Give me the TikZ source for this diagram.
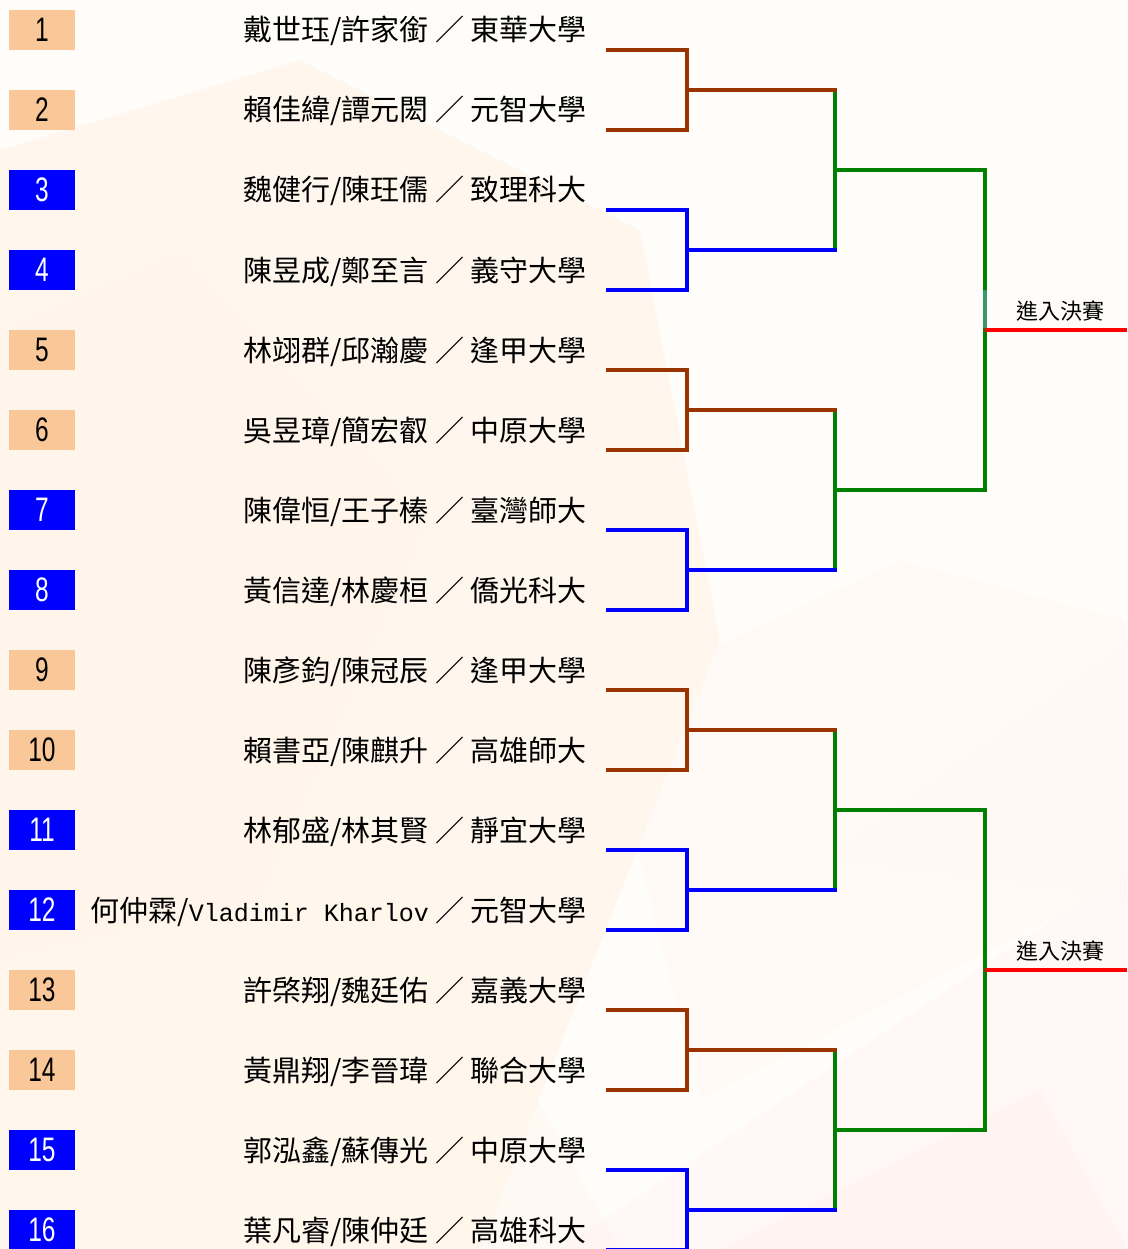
\documentclass[tikz,border=0pt]{standalone}
\usepackage{fontspec}
\usepackage{graphicx}
\setmainfont{Liberation Sans}
\newfontfamily\cjk{Noto Sans CJK TC}
\newfontfamily\monolat{Liberation Mono}
\newfontfamily\numfont{Liberation Sans}
\definecolor{peach}{HTML}{FAC898}
\definecolor{boxblue}{HTML}{0000FF}
\definecolor{brk}{HTML}{993300}
\definecolor{blu}{HTML}{0000FF}
\definecolor{grn}{HTML}{008000}
\definecolor{teal2}{HTML}{3A9A6A}
\definecolor{redl}{HTML}{FF0000}
\definecolor{bgbase}{HTML}{FFFDFA}
\newcommand{\numtxt}[1]{\scalebox{0.72}[1]{#1}}
\tikzset{
  numbox/.style={minimum width=66pt, minimum height=40pt, inner sep=0pt, draw=none,
    font=\numfont\fontsize{34}{34}\selectfont},
  peachbox/.style={numbox, fill=peach, text=black},
  bluebox/.style={numbox, fill=boxblue, text=white},
  entry/.style={anchor=base east, inner sep=0pt, font=\cjk\fontsize{29}{29}\selectfont},
  finlabel/.style={anchor=base, inner sep=0pt, font=\cjk\fontsize{22}{22}\selectfont},
  wire/.style={line width=3.2pt, line join=miter, line cap=rect},
  brownwire/.style={wire, draw=brk},
  bluewire/.style={wire, draw=blu},
  greenwire/.style={wire, draw=grn},
  redwire/.style={line width=3.2pt, draw=redl},
}
\begin{document}
\begin{tikzpicture}[x=1pt,y=-1pt]
\useasboundingbox (0,0) rectangle (1127,1249);
% background
\fill[bgbase] (0,0) rectangle (1127,1249);
\fill[color=orange!12, opacity=0.45] (0,150) -- (300,60) -- (640,230) -- (720,640) -- (480,1249) -- (0,1249) -- cycle;
\fill[color=orange!10, opacity=0.4] (0,330) -- (180,250) -- (430,520) -- (260,900) -- (0,960) -- cycle;
\fill[color=orange!8, opacity=0.4] (0,900) -- (350,760) -- (620,1249) -- (0,1249) -- cycle;
\fill[color=pink!25, opacity=0.35] (560,1249) -- (1127,870) -- (1127,1249) -- cycle;
\fill[color=pink!30, opacity=0.3] (720,1249) -- (1040,1090) -- (1127,1249) -- cycle;
\fill[color=pink!15, opacity=0.3] (820,860) -- (1127,640) -- (1127,900) -- cycle;
\fill[color=orange!6, opacity=0.35] (600,700) -- (900,560) -- (1127,620) -- (1127,880) -- (700,1100) -- cycle;

% number boxes and entries
\foreach \i/\st/\txt in {
  1/peachbox/{戴世珏/許家銜 ／ 東華大學},
  2/peachbox/{賴佳緯/譚元閎 ／ 元智大學},
  3/bluebox/{魏健行/陳玨儒 ／ 致理科大},
  4/bluebox/{陳昱成/鄭至言 ／ 義守大學},
  5/peachbox/{林翊群/邱瀚慶 ／ 逢甲大學},
  6/peachbox/{吳昱璋/簡宏叡 ／ 中原大學},
  7/bluebox/{陳偉恒/王子榛 ／ 臺灣師大},
  8/bluebox/{黃信達/林慶桓 ／ 僑光科大},
  9/peachbox/{陳彥鈞/陳冠辰 ／ 逢甲大學},
  10/peachbox/{賴書亞/陳麒升 ／ 高雄師大},
  11/bluebox/{林郁盛/林其賢 ／ 靜宜大學},
  12/bluebox/{何仲霖/{\monolat\fontsize{25}{25}\selectfont Vladimir Kharlov} ／ 元智大學},
  13/peachbox/{許棨翔/魏廷佑 ／ 嘉義大學},
  14/peachbox/{黃鼎翔/李晉瑋 ／ 聯合大學},
  15/bluebox/{郭泓鑫/蘇傳光 ／ 中原大學},
  16/bluebox/{葉凡睿/陳仲廷 ／ 高雄科大}}{
  \pgfmathsetmacro{\yc}{30+80*(\i-1)}
  \node[\st] (n\i) at (42,\yc) {\numtxt{\i}};
  \node[entry] (t\i) at (587,\yc+11) {\txt};
  \coordinate (l\i) at (608,\yc+20);
}

% first round junction coordinates
\foreach \k in {0,...,7}{
  \pgfmathsetmacro{\ym}{90+160*\k}
  \coordinate (r\k) at (687,\ym);
  \coordinate (s\k) at (835,\ym);
}
% second round coordinates
\foreach \k in {0,...,3}{
  \pgfmathsetmacro{\ym}{170+320*\k}
  \coordinate (q\k) at (835,\ym);
  \coordinate (u\k) at (985,\ym);
}
% third round coordinates
\coordinate (v0) at (985,330);
\coordinate (v1) at (985,970);
\coordinate (w0) at (1127,330);
\coordinate (w1) at (1127,970);
\coordinate (m0) at (985,290);
\coordinate (m1) at (985,328);

% green second-round verticals and horizontals
\draw[greenwire] (s0) -- (s1);  \draw[greenwire] (q0) -- (u0);
\draw[greenwire] (s2) -- (s3);  \draw[greenwire] (q1) -- (u1);
\draw[greenwire] (s4) -- (s5);  \draw[greenwire] (q2) -- (u2);
\draw[greenwire] (s6) -- (s7);  \draw[greenwire] (q3) -- (u3);
% green third-round verticals
\draw[greenwire] (u0) -- (u1);
\draw[line width=3.2pt, draw=teal2] (m0) -- (m1);
\draw[greenwire] (u2) -- (u3);

% first-round brackets
\draw[brownwire] (l1) -| (r0) |- (l2);  \draw[brownwire] (r0) -- (s0);
\draw[bluewire]  (l3) -| (r1) |- (l4);  \draw[bluewire]  (r1) -- (s1);
\draw[brownwire] (l5) -| (r2) |- (l6);  \draw[brownwire] (r2) -- (s2);
\draw[bluewire]  (l7) -| (r3) |- (l8);  \draw[bluewire]  (r3) -- (s3);
\draw[brownwire] (l9) -| (r4) |- (l10); \draw[brownwire] (r4) -- (s4);
\draw[bluewire]  (l11) -| (r5) |- (l12); \draw[bluewire] (r5) -- (s5);
\draw[brownwire] (l13) -| (r6) |- (l14); \draw[brownwire] (r6) -- (s6);
\draw[bluewire]  (l15) -| (r7) |- (l16); \draw[bluewire] (r7) -- (s7);

% finals
\draw[redwire] (v0) -- (w0);
\draw[redwire] (v1) -- (w1);
\node[finlabel] (f0) at (1060,319) {進入決賽};
\node[finlabel] (f1) at (1060,959) {進入決賽};
\end{tikzpicture}
\end{document}
